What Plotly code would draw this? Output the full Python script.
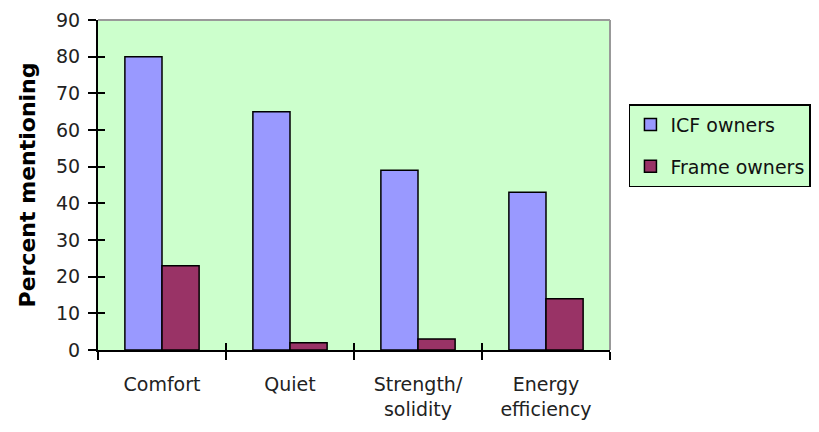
import plotly.graph_objects as go

categories = ["Comfort", "Quiet", "Strength/<br>solidity", "Energy<br>efficiency"]
icf_owners = [80, 65, 49, 43]
frame_owners = [23, 2, 3, 14]
y_ticks = [0, 10, 20, 30, 40, 50, 60, 70, 80, 90]

FONT = "DejaVu Sans, Liberation Sans, Arial, sans-serif"
BG = "#ccffcc"

fig = go.Figure()
fig.add_trace(go.Bar(
    x=categories, y=icf_owners, name="ICF owners", legendgroup="icf",
    marker=dict(color="#9999ff", line=dict(color="black", width=1.5)),
))
fig.add_trace(go.Bar(
    x=categories, y=frame_owners, name="Frame owners", legendgroup="frame",
    marker=dict(color="#993366", line=dict(color="black", width=1.5)),
))

fig.update_layout(
    width=819, height=432,
    margin=dict(l=98, r=209, t=20, b=82, autoexpand=False),
    paper_bgcolor="white",
    plot_bgcolor=BG,
    barmode="group",
    bargap=0.42,
    bargroupgap=0,
    font=dict(family=FONT, size=19, color="#222"),
    showlegend=True,
    legend=dict(
        x=1.037, y=0.745, xanchor="left", yanchor="top",
        bgcolor=BG, bordercolor="black", borderwidth=1.5,
        font=dict(family=FONT, size=19, color="#111"),
        tracegroupgap=14, itemwidth=30,
    ),
    xaxis=dict(
        type="category", range=[-0.5, 3.5], automargin=False,
        showline=True, linecolor="black", linewidth=2,
        ticks="outside", ticklen=8, tickwidth=1.5, tickcolor="black",
        tickson="boundaries", ticklabelstandoff=16,
        tickfont=dict(family=FONT, size=19, color="#222"),
        showgrid=False, mirror=False,
    ),
    xaxis2=dict(
        overlaying="x", range=[-0.5, 3.5], anchor="y", automargin=False,
        tickvals=[-0.5, 0.5, 1.5, 2.5, 3.5], showticklabels=False,
        ticks="inside", ticklen=7, tickwidth=1.5, tickcolor="black",
        showgrid=False, zeroline=False, showline=False,
    ),
    yaxis=dict(
        range=[0, 90], tickvals=y_ticks, automargin=False,
        showline=True, linecolor="black", linewidth=2,
        ticks="outside", ticklen=8, tickwidth=1.5, tickcolor="black",
        ticklabelstandoff=4,
        tickfont=dict(family=FONT, size=19, color="#222"),
        showgrid=False, zeroline=False,
        title=dict(text="<b>Percent mentioning</b>", standoff=14,
                   font=dict(family=FONT, size=22, color="black")),
    ),
    yaxis2=dict(
        overlaying="y", range=[0, 90], anchor="x", automargin=False,
        tickvals=y_ticks, showticklabels=False,
        ticks="inside", ticklen=7, tickwidth=1.5, tickcolor="black",
        showgrid=False, zeroline=False, showline=False,
    ),
    shapes=[
        dict(type="line", xref="paper", yref="paper", x0=0, x1=1, y0=1, y1=1,
             line=dict(color="#999999", width=2)),
        dict(type="line", xref="paper", yref="paper", x0=1, x1=1, y0=0, y1=1,
             line=dict(color="#999999", width=2)),
    ],
)

# invisible helper trace so the secondary tick axes get drawn
fig.add_trace(go.Scatter(x=[None], y=[None], xaxis="x2", yaxis="y2",
                         showlegend=False, hoverinfo="skip"))

fig.write_html("out.html")
